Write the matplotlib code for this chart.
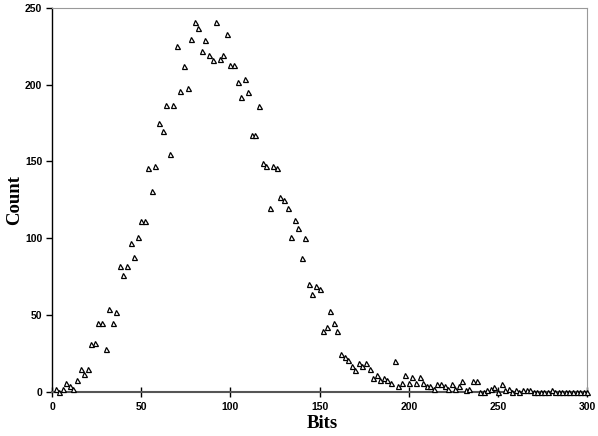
import matplotlib
matplotlib.use("Agg")
import matplotlib.pyplot as plt
import numpy as np

bits = np.arange(2, 301, 2)
counts = [
    2, 0, 2, 6, 4, 2, 8, 15, 12, 15,            # 2-20
    31, 32, 45, 45, 28, 54, 45, 52, 82, 76,     # 22-40
    82, 97, 88, 101, 111, 111, 146, 131, 147, 175,  # 42-60
    170, 187, 155, 187, 225, 196, 212, 198, 230, 241,  # 62-80
    237, 222, 229, 219, 216, 241, 217, 219, 233, 213,  # 82-100
    213, 202, 192, 204, 195, 167, 167, 186, 149, 147,  # 102-120
    120, 147, 146, 127, 125, 120, 101, 112, 107, 87,   # 122-140
    100, 70, 64, 69, 67, 40, 42, 53, 45, 40,           # 142-160
    25, 23, 21, 17, 14, 19, 17, 19, 15, 9,             # 162-180
    11, 8, 9, 8, 6, 20, 4, 6, 11, 6,                   # 182-200
    10, 6, 10, 6, 4, 4, 2, 5, 5, 4,                    # 202-220
    2, 5, 2, 4, 7, 1, 2, 7, 7, 0,                      # 222-240
    0, 1, 2, 3, 0, 5, 1, 2, 0, 1,                      # 242-260
    0, 1, 1, 1, 0, 0, 0, 0, 0, 1,                      # 262-280
    0, 0, 0, 0, 0, 0, 0, 0, 0, 0,                      # 282-300
]

fig = plt.figure(figsize=(5.98, 4.36), dpi=100)
ax = fig.add_axes([0.087, 0.101, 0.895, 0.881])

ax.plot(bits, counts, linestyle="none", marker="^", markersize=3.6,
        markerfacecolor="white", markeredgecolor="black", markeredgewidth=0.9,
        clip_on=False, zorder=3)

ax.set_xlim(0, 300)
ax.set_ylim(0, 250)
ax.set_xticks(np.arange(0, 301, 50))
ax.set_yticks(np.arange(0, 251, 50))

tick_font = {"family": "Liberation Sans", "weight": "bold", "size": 7.5}
ax.set_xticklabels([str(v) for v in range(0, 301, 50)], fontdict=tick_font)
ax.set_yticklabels([str(v) for v in range(0, 251, 50)], fontdict=tick_font)
ax.tick_params(axis="x", direction="inout", length=7, width=1, colors="black", pad=4)
ax.tick_params(axis="y", direction="out", length=4, width=1, colors="black", pad=3)

ax.spines["left"].set_color("black")
ax.spines["left"].set_linewidth(1.0)
ax.spines["bottom"].set_color("#555555")
ax.spines["bottom"].set_linewidth(1.5)
ax.spines["top"].set_color("#999999")
ax.spines["right"].set_color("#999999")

label_font = {"family": "Liberation Serif", "weight": "bold", "size": 13.5}
fig.text(322 / 598, 1 - 423 / 436, "Bits", ha="center", va="center", **label_font)
fig.text(15 / 598, 1 - 200 / 436, "Count", ha="center", va="center",
         rotation=90, **label_font)

fig.savefig("out.png", dpi=100)
